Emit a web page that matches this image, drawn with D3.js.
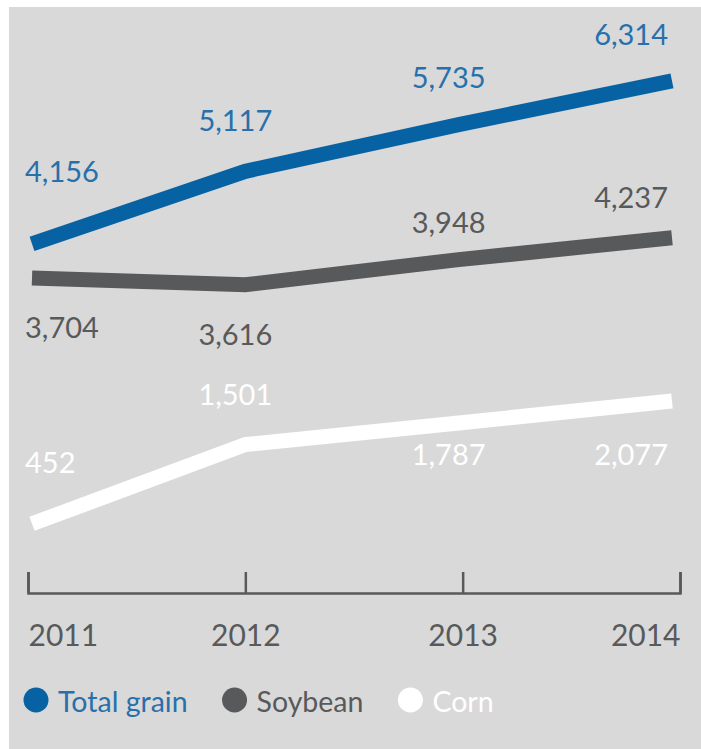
<!DOCTYPE html>
<html>
<head>
<meta charset="utf-8">
<script src="https://cdn.jsdelivr.net/npm/d3@7"></script>
<style>
  html, body { margin: 0; padding: 0; background: #ffffff; }
  svg { display: block; font-family: Lato, "Open Sans", sans-serif; }
</style>
</head>
<body>
<svg id="chart" width="701" height="749"></svg>
<script>
// Grain output by year
const years = ["2011", "2012", "2013", "2014"];
const totalGrain = [4156, 5117, 5735, 6314];
const soybean = [3704, 3616, 3948, 4237];
const corn = [452, 1501, 1787, 2077];
const seriesNames = ["Total grain", "Soybean", "Corn"];

const series = [
  { name: seriesNames[0], values: totalGrain, line: "#0762a3", text: "#2770ab" },
  { name: seriesNames[1], values: soybean,    line: "#58595b", text: "#58595b" },
  { name: seriesNames[2], values: corn,       line: "#ffffff", text: "#ffffff" }
];

// vertical offset of each value label from its point (label baseline)
const labelDy = [
  [-62, -40, -37, -36],
  [ 60,  60, -27, -30],
  [-51, -40,  42,  64]
];

const svg = d3.select("#chart");

// panel background
svg.append("rect")
  .attr("x", 9).attr("y", 7)
  .attr("width", 692).attr("height", 742)
  .attr("fill", "#d9d9d9");

const x = d3.scalePoint().domain(years).range([32, 672]);
const xAxisScale = d3.scalePoint().domain(years).range([28, 680]);
const y = d3.scaleLinear().domain([0, 7000]).range([558, 29]);

const fmt = d3.format(",");

const line = d3.line()
  .x((d, i) => x(years[i]))
  .y(d => y(d));

// lines
svg.append("g").selectAll("path")
  .data(series)
  .join("path")
  .attr("d", s => line(s.values))
  .attr("fill", "none")
  .attr("stroke", s => s.line)
  .attr("stroke-width", 15)
  .attr("stroke-linejoin", "miter")
  .attr("stroke-linecap", "butt");

// value labels
series.forEach((s, si) => {
  svg.append("g").selectAll("text")
    .data(s.values)
    .join("text")
    .attr("x", (d, i) => i === 0 ? x(years[i]) - 7 : i === years.length - 1 ? x(years[i]) - 4 : x(years[i]) - 10)
    .attr("y", (d, i) => y(d) + labelDy[si][i])
    .attr("text-anchor", (d, i) => i === 0 ? "start" : i === years.length - 1 ? "end" : "middle")
    .attr("fill", s.text)
    .attr("font-size", 29)
    .text(d => fmt(d));
});

// year axis
const axisY = 593;
const axis = d3.axisBottom(xAxisScale)
  .tickSizeInner(-21)
  .tickSizeOuter(-21);

const gAxis = svg.append("g")
  .attr("transform", `translate(0,${axisY})`)
  .call(axis);

gAxis.select(".domain")
  .attr("stroke", "#58595b")
  .attr("stroke-width", 2.5);
gAxis.selectAll(".tick line")
  .attr("stroke", "#58595b")
  .attr("stroke-width", 2.5);
gAxis.selectAll(".tick text")
  .attr("y", 53)
  .attr("dy", 0)
  .attr("fill", "#58595b")
  .attr("font-size", 30)
  .attr("font-family", "Lato, 'Open Sans', sans-serif")
  .attr("text-anchor", (d, i) => i === 0 ? "start" : i === years.length - 1 ? "end" : "middle");

// legend
const legend = svg.append("g").attr("transform", "translate(36,700)");
let lx = 0;
series.forEach(s => {
  const item = legend.append("g").attr("transform", `translate(${lx},0)`);
  item.append("circle")
    .attr("r", 12.5)
    .attr("fill", s.line);
  const t = item.append("text")
    .attr("x", 22)
    .attr("y", 12)
    .attr("fill", s.text)
    .attr("font-size", 28.5)
    .text(s.name);
  lx += 22 + t.node().getComputedTextLength() + 47;
});
</script>
</body>
</html>
